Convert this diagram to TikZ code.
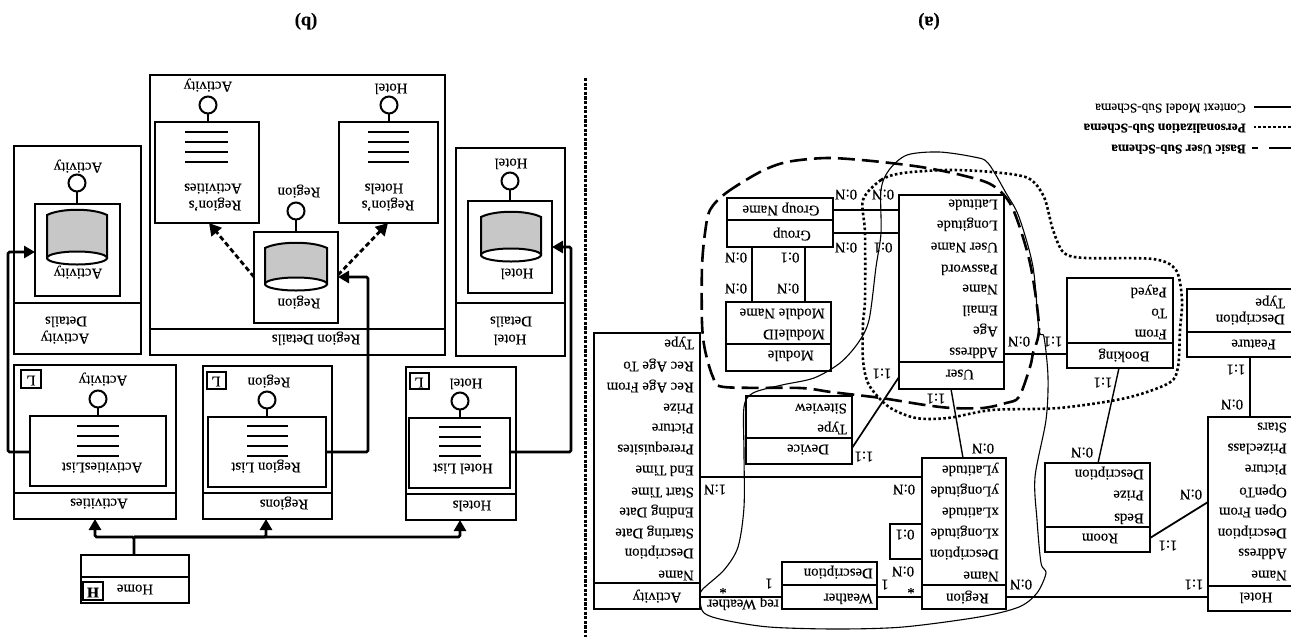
\documentclass[tikz,border=0pt]{standalone}
\usepackage{fontspec}
\setmainfont[FakeBold=0.22]{Liberation Serif}
\usetikzlibrary{arrows.meta}
\newcounter{autonode}
\tikzset{
  boxst/.style={draw,line width=1.9pt,inner sep=0pt,outer sep=0pt,fill=none},
  thinbox/.style={boxst,line width=1.6pt},
  lab/.style={rotate=180,inner sep=0pt,text height=9.5pt,text depth=3pt,font=\fontsize{14.8}{16}\selectfont},
  attr/.style={lab,anchor=west},
  link/.style={line width=1.4pt},
  thick link/.style={line width=2.4pt},
  navarrow/.style={line width=2.8pt,-{Triangle[length=11pt,width=12pt]},rounded corners=1.5pt},
  dasharrow/.style={line width=2.8pt,dash pattern=on 5pt off 3pt,-{Triangle[length=12pt,width=13pt]}},
  ring/.style={draw,circle,line width=2pt,minimum size=17pt,inner sep=0pt,outer sep=0pt,fill=white},
  listline/.style={line width=1.9pt},
  basic/.style={line width=2.6pt,dash pattern=on 17pt off 7pt},
  pers/.style={line width=2.6pt,dash pattern=on 2.6pt off 2.4pt},
  ctx/.style={line width=1.1pt},
}
\newcommand\bx[6][boxst]{\node[#1,minimum width={(#5-#3)*1pt},minimum height={(#6-#4)*1pt}] (#2) at ({(#3+#5)/2},{(#4+#6)/2}) {};}
\newcommand\T[4][]{\stepcounter{autonode}\node[lab,#1] (t\theautonode) at (#2,#3) {#4};}
\newcommand\A[3]{\stepcounter{autonode}\node[attr] (t\theautonode) at (#1,#2) {#3};}
\newcommand\dv[2]{\draw[line width=1.7pt] (#1.west |- 0,#2) -- (#1.east |- 0,#2);}
\newcommand\cyl[4]{%
  \draw[line width=2pt,fill=black!22] (#1,#4) -- (#1,#3+6) .. controls ({#1+14},#3-1) and ({#2-14},#3-1) .. (#2,#3+6) -- (#2,#4) -- cycle;
  \draw[line width=2pt,fill=white] ({(#1+#2)/2},#4) ellipse ({(#2-#1)/2} and 6.5);}
\newcommand\four[6]{\foreach \yy in {#3,#4,#5,#6} \draw[listline] (#1,\yy) -- (#2,\yy);}
\begin{document}
\begin{tikzpicture}[x=1pt,y=-1pt]
\useasboundingbox (0,0) rectangle (1291,638);
\clip (0,0) rectangle (1291,638);

% ------ captions
\T[font=\fontsize{18.5}{20}\selectfont\bfseries]{929}{20}{(a)}
\T[font=\fontsize{18.5}{20}\selectfont\bfseries]{306}{20}{(b)}

% ------ legend
\coordinate (l1a) at (1291,107); \coordinate (l1b) at (1254,107);
\coordinate (l2a) at (1291,127); \coordinate (l2b) at (1254,127);
\coordinate (l3a) at (1291,148); \coordinate (l3b) at (1252,148);
\draw[line width=1.8pt] (l1a) -- (l1b);
\draw[pers] (l2a) -- (l2b);
\draw[line width=2.8pt,dash pattern=on 22pt off 11pt] (l3a) -- (l3b);
\stepcounter{autonode}\node[attr,font=\fontsize{13.3}{15}\selectfont] (t\theautonode) at (1246,107) {Context Model Sub-Schema};
\stepcounter{autonode}\node[attr,font=\fontsize{13.3}{15}\selectfont\bfseries] (t\theautonode) at (1246,127) {Personalization Sub-Schema};
\stepcounter{autonode}\node[attr,font=\fontsize{13.3}{15}\selectfont\bfseries] (t\theautonode) at (1246,148) {Basic User Sub-Schema};

% ------ entity boxes (a)
\bx{activity}{594}{333}{700}{609}
\bx{weather}{782}{562}{877}{609}
\bx{region}{922}{458}{1006}{609}
\bx{hotel}{1208}{417}{1296}{611}
\bx{feature}{1187}{289}{1296}{357}
\bx{room}{1045}{463}{1150}{552}
\bx{booking}{1067}{278}{1173}{368}
\bx{user}{899}{195}{1004}{389}
\bx{device}{746}{396}{852}{464}
\bx{module}{726}{302}{831}{371}
\bx{group}{727}{198}{833}{247}
\dv{activity}{583}\dv{weather}{585}\dv{region}{585}\dv{hotel}{586}\dv{feature}{332}
\dv{room}{527}\dv{booking}{343}\dv{user}{362}\dv{device}{438}\dv{module}{344}\dv{group}{220}

% Activity
\A{694}{343}{Type}\A{694}{365}{Rec Age To}\A{694}{386}{Rec Age From}\A{694}{407}{Prize}
\A{694}{427}{Picture}\A{694}{448}{Prerequisites}\A{694}{469}{End Time}\A{694}{491}{Start Time}
\A{694}{511}{Ending Date}\A{694}{532}{Starting Date}\A{694}{552}{Description}\A{694}{574}{Name}
\T{657}{596}{Activity}
% Weather
\A{873}{572}{Description}\A{873}{597}{Weather}
% Region
\A{999}{469}{yLatitude}\A{999}{490}{yLongitude}\A{999}{511}{xLatitude}\A{999}{532}{xLongitude}
\A{999}{553}{Description}\A{999}{575}{Name}\A{989}{597}{Region}
% Hotel
\A{1287}{426}{Stars}\A{1287}{447}{Prizeclass}\A{1287}{468}{Picture}\A{1287}{491}{OpenTo}
\A{1287}{511}{Open From}\A{1287}{532}{Description}\A{1287}{552}{Address}\A{1287}{574}{Name}
\T{1256}{596}{Hotel}
% Feature
\A{1285}{302}{Type}\A{1285}{318}{Description}\A{1276}{343}{Feature}
% Room
\A{1144}{473}{Description}\A{1144}{494}{Prize}\A{1144}{517}{Beds}\T{1100}{537}{Room}
% Booking
\A{1167}{291}{Payed}\A{1167}{312}{To}\A{1167}{333}{From}\T{1124}{355}{Booking}
% User
\A{998}{203}{Latitude}\A{998}{224}{Longitude}\A{998}{246}{User Name}\A{998}{268}{Password}
\A{998}{288}{Name}\A{998}{309}{Email}\A{998}{330}{Age}\A{998}{351}{Address}\A{974}{373}{User}
% Device
\A{847}{407}{Siteview}\A{847}{428}{Type}\T{808}{448}{Device}
% Module
\A{825}{312}{Module Name}\A{825}{333}{ModuleID}\A{814}{354}{Module}
% Group
\T{781}{209}{Group Name}\A{811}{234}{Group}

% ------ relationships (a)
\draw[thick link] (activity.east |- 0,597) -- (weather.west |- 0,597);
\draw[thick link] (weather.east |- 0,597) -- (region.west |- 0,597);
\draw[link] (activity.east |- 0,477) -- (region.west |- 0,477);
\draw[link,line width=1.8pt] (region.east |- 0,597) -- (hotel.west |- 0,597);
\draw[link,line width=1.8pt] (feature.south -| 1250,0) -- (hotel.north -| 1250,0);
\draw[link,line width=1.8pt] (room.east |- 0,538) -- (hotel.west |- 0,502);
\draw[link] (room.north -| 1098,0) -- (booking.south -| 1119,0);
\draw[link] (user.east |- 0,354) -- (booking.west |- 0,354);
\draw[link] (user.south -| 951,0) -- (region.north -| 963,0);
\draw[link,line width=1.7pt] (device.east |- 0,448) -- (user.west |- 0,377);
\draw[link,line width=1.7pt] (group.south -| 752,0) -- (module.north -| 752,0);
\draw[link,line width=1.7pt] (group.south -| 805,0) -- (module.north -| 805,0);
\draw[thick link] (group.east |- 0,210) -- (user.west |- 0,210);
\draw[link] (group.east |- 0,233) -- (user.west |- 0,233);
\draw[link,line width=1.7pt] (region.west |- 0,524) -- (890,524) -- (890,559) -- (region.west |- 0,559);

\T{743}{603}{req Weather}
\T{723}{587}{*}\T{769}{582}{1}\T{885}{583}{1}\T{911}{587}{*}\T{903}{570}{0:N}\T{905}{533}{0:1}
\T{715}{488}{1:N}\T{904}{488}{0:N}\T{1021}{583}{0:N}\T{1194}{583}{1:1}
\T{1236}{368}{1:1}\T{1232}{403}{0:N}\T{1168}{544}{1:1}\T{1191}{493}{0:N}
\T{1082}{451}{0:N}\T{1103}{381}{1:1}\T{1019}{340}{0:N}\T{1053}{340}{1:1}
\T{936}{397}{1:1}\T{983}{447}{0:N}\T{864}{455}{1:1}\T{882}{372}{1:1}
\T{736}{256}{0:N}\T{790}{256}{0:1}\T{736}{287}{0:N}\T{788}{287}{0:N}
\T{846}{193}{0:N}\T{883}{193}{0:N}\T{846}{246}{0:N}\T{883}{246}{0:1}

% ------ sub-schema outlines
\draw[basic,line join=round] plot[smooth cycle,tension=.5] coordinates {
 (710,210)(726,193)(760,172)(787,162)(827,158)(872,161)(921,167)(961,175)(992,185)(1012,207)
 (1030,263)(1039,327)(1033,353)(1030,367)(1019,397)(1006,403)(983,408)(952,408)(925,405)(881,398)
 (831,392)(800,388)(724,387)(713,377)(705,350)(702,323)(702,267)(705,233)};
\draw[pers] plot[smooth cycle,tension=.5] coordinates {
 (863,200)(881,180)(903,173)(948,170)(992,172)(1028,178)(1044,197)(1053,230)(1064,253)(1086,258)
 (1153,259)(1176,270)(1182,300)(1180,330)(1178,367)(1169,383)(1126,398)(1059,408)(992,410)(948,418)
 (916,418)(889,407)(869,385)(863,360)(863,323)(865,300)(865,233)};
\draw[ctx] plot[smooth cycle,tension=.5] coordinates {
 (988,163)(1006,193)(1019,217)(1033,267)(1039,330)(1044,337)(1048,377)(1046,420)(1035,477)(1037,520)
 (1041,563)(1046,573)(1037,593)(1019,607)(979,617)(903,627)(836,629)(769,627)(724,620)(704,613)
 (700,600)(702,590)(724,570)(738,547)(744,507)(744,453)(744,407)(753,393)(782,385)(814,378)
 (840,363)(858,343)(869,320)(876,267)(881,233)(881,190)(889,170)(907,155)(939,152)(974,157)};

% ------ vertical separator
\coordinate (sepa) at (585,78); \coordinate (sepb) at (585,637);
\draw[line width=3pt,dash pattern=on 3.2pt off 1.4pt] (sepa) -- (sepb);

% ------ (b) pages
\bx{rdetails}{150}{75}{445}{355}
\bx{adetails}{14}{146}{141}{354}
\bx{hdetails}{456}{148}{565}{356}
\bx{actpage}{14}{365}{176}{519}
\bx{regpage}{203}{366}{332}{519}
\bx{hotpage}{406}{367}{516}{520}
\bx{home}{81}{555}{189}{603}
\dv{rdetails}{329}\dv{adetails}{303}\dv{hdetails}{303}\dv{actpage}{493}\dv{regpage}{493}\dv{hotpage}{494}\dv{home}{577}

% units
\bx{rhotels}{339}{122}{438}{223}
\bx{racts}{155}{122}{259}{223}
\bx{rdata}{254}{232}{338}{323}
\bx{adata}{35}{204}{120}{296}
\bx{hdata}{468}{201}{552}{293}
\bx{alist}{30}{416}{166}{486}
\bx{rlist}{208}{417}{326}{487}
\bx{hlist}{409}{418}{510}{488}
\bx[thinbox,fill=white]{lbox a}{21}{370}{41}{388}
\bx[thinbox,fill=white]{lbox r}{207}{372}{226}{389}
\bx[thinbox,fill=white]{lbox h}{410}{373}{429}{389}
\bx[thinbox,fill=white]{hbox}{83}{582}{103}{600}
\T{31}{379}{L}\T{216}{380}{L}\T{419}{381}{L}\T[font=\fontsize{14.8}{16}\selectfont\bfseries]{93}{591}{H}

% rings
\node[ring] (c1) at (389,105) {}; \draw[line width=1.8pt] (c1) -- (rhotels.north -| c1);
\node[ring] (c2) at (208,105) {}; \draw[line width=1.8pt] (c2) -- (racts.north -| c2);
\node[ring] (c3) at (296,211) {}; \draw[line width=1.8pt] (c3) -- (rdata.north -| c3);
\node[ring] (c4) at (77,183) {};  \draw[line width=1.8pt] (c4) -- (adata.north -| c4);
\node[ring] (c5) at (510,181) {}; \draw[line width=1.8pt] (c5) -- (hdata.north -| c5);
\node[ring] (c6) at (98,399) {};  \draw[line width=1.8pt] (c6) -- (alist.north -| c6);
\node[ring] (c7) at (267,400) {}; \draw[line width=1.8pt] (c7) -- (rlist.north -| c7);
\node[ring] (c8) at (460,401) {}; \draw[line width=1.8pt] (c8) -- (hlist.north -| c8);

% list lines
\four{368}{409}{132}{142}{152}{162}
\four{185}{228}{132}{142}{152}{162}
\four{77}{119}{426}{436}{446}{456}
\four{247}{288}{426}{436}{446}{456}
\four{439}{481}{427}{437}{446}{456}

% cylinders
\cyl{265}{327}{242}{284}
\cyl{47}{107}{209}{258}
\cyl{481}{541}{211}{255}

% texts (b)
\T{316}{338}{Region Details}
\T{391}{87}{Hotel}\T{384}{187}{Hotels}\T{388}{204}{Region's}
\T{208}{85}{Activity}\T{213}{187}{Activities}\T{215}{204}{Region's}
\T{299}{191}{Region}\T{299}{302}{Region}
\T{78}{166}{Activity}\T{78}{272}{Activity}\T{66}{320}{Details}\T{65}{337}{Activity}
\T{511}{162}{Hotel}\T{517}{272}{Hotel}\T{511}{320}{Details}\T{510}{338}{Hotel}
\T{103}{379}{Activity}\T{102}{466}{ActivitiesList}\T{99}{502}{Activities}
\T{269}{381}{Region}\T{266}{466}{Region List}\T{284}{503}{Regions}
\T{466}{382}{Hotel}\T{463}{467}{Hotel List}\T{472}{504}{Hotels}
\T{135}{588}{Home}

% links (b)
\draw[dasharrow] (rdata.west |- 0,277) -- (racts.south -| 209,0);
\draw[dasharrow] (rdata.east |- 0,275) -- (rhotels.south -| 388,0);
\draw[navarrow] (rlist.east |- 0,452) -- (368,452) -- (368,277) -- (rdata.east |- 0,277);
\draw[navarrow] (alist.west |- 0,452) -- (8,452) -- (8,252) -- (adata.west |- 0,252);
\draw[navarrow] (hlist.east |- 0,452) -- (571,452) -- (571,247) -- (hdata.east |- 0,247);
\draw[navarrow] (home.north -| 134,0) -- (134,537) -- (95,537) -- (actpage.south -| 95,0);
\draw[navarrow] (134,537) -- (266,537) -- (regpage.south -| 266,0);
\draw[navarrow] (134,537) -- (460,537) -- (hotpage.south -| 460,0);
\end{tikzpicture}
\end{document}
